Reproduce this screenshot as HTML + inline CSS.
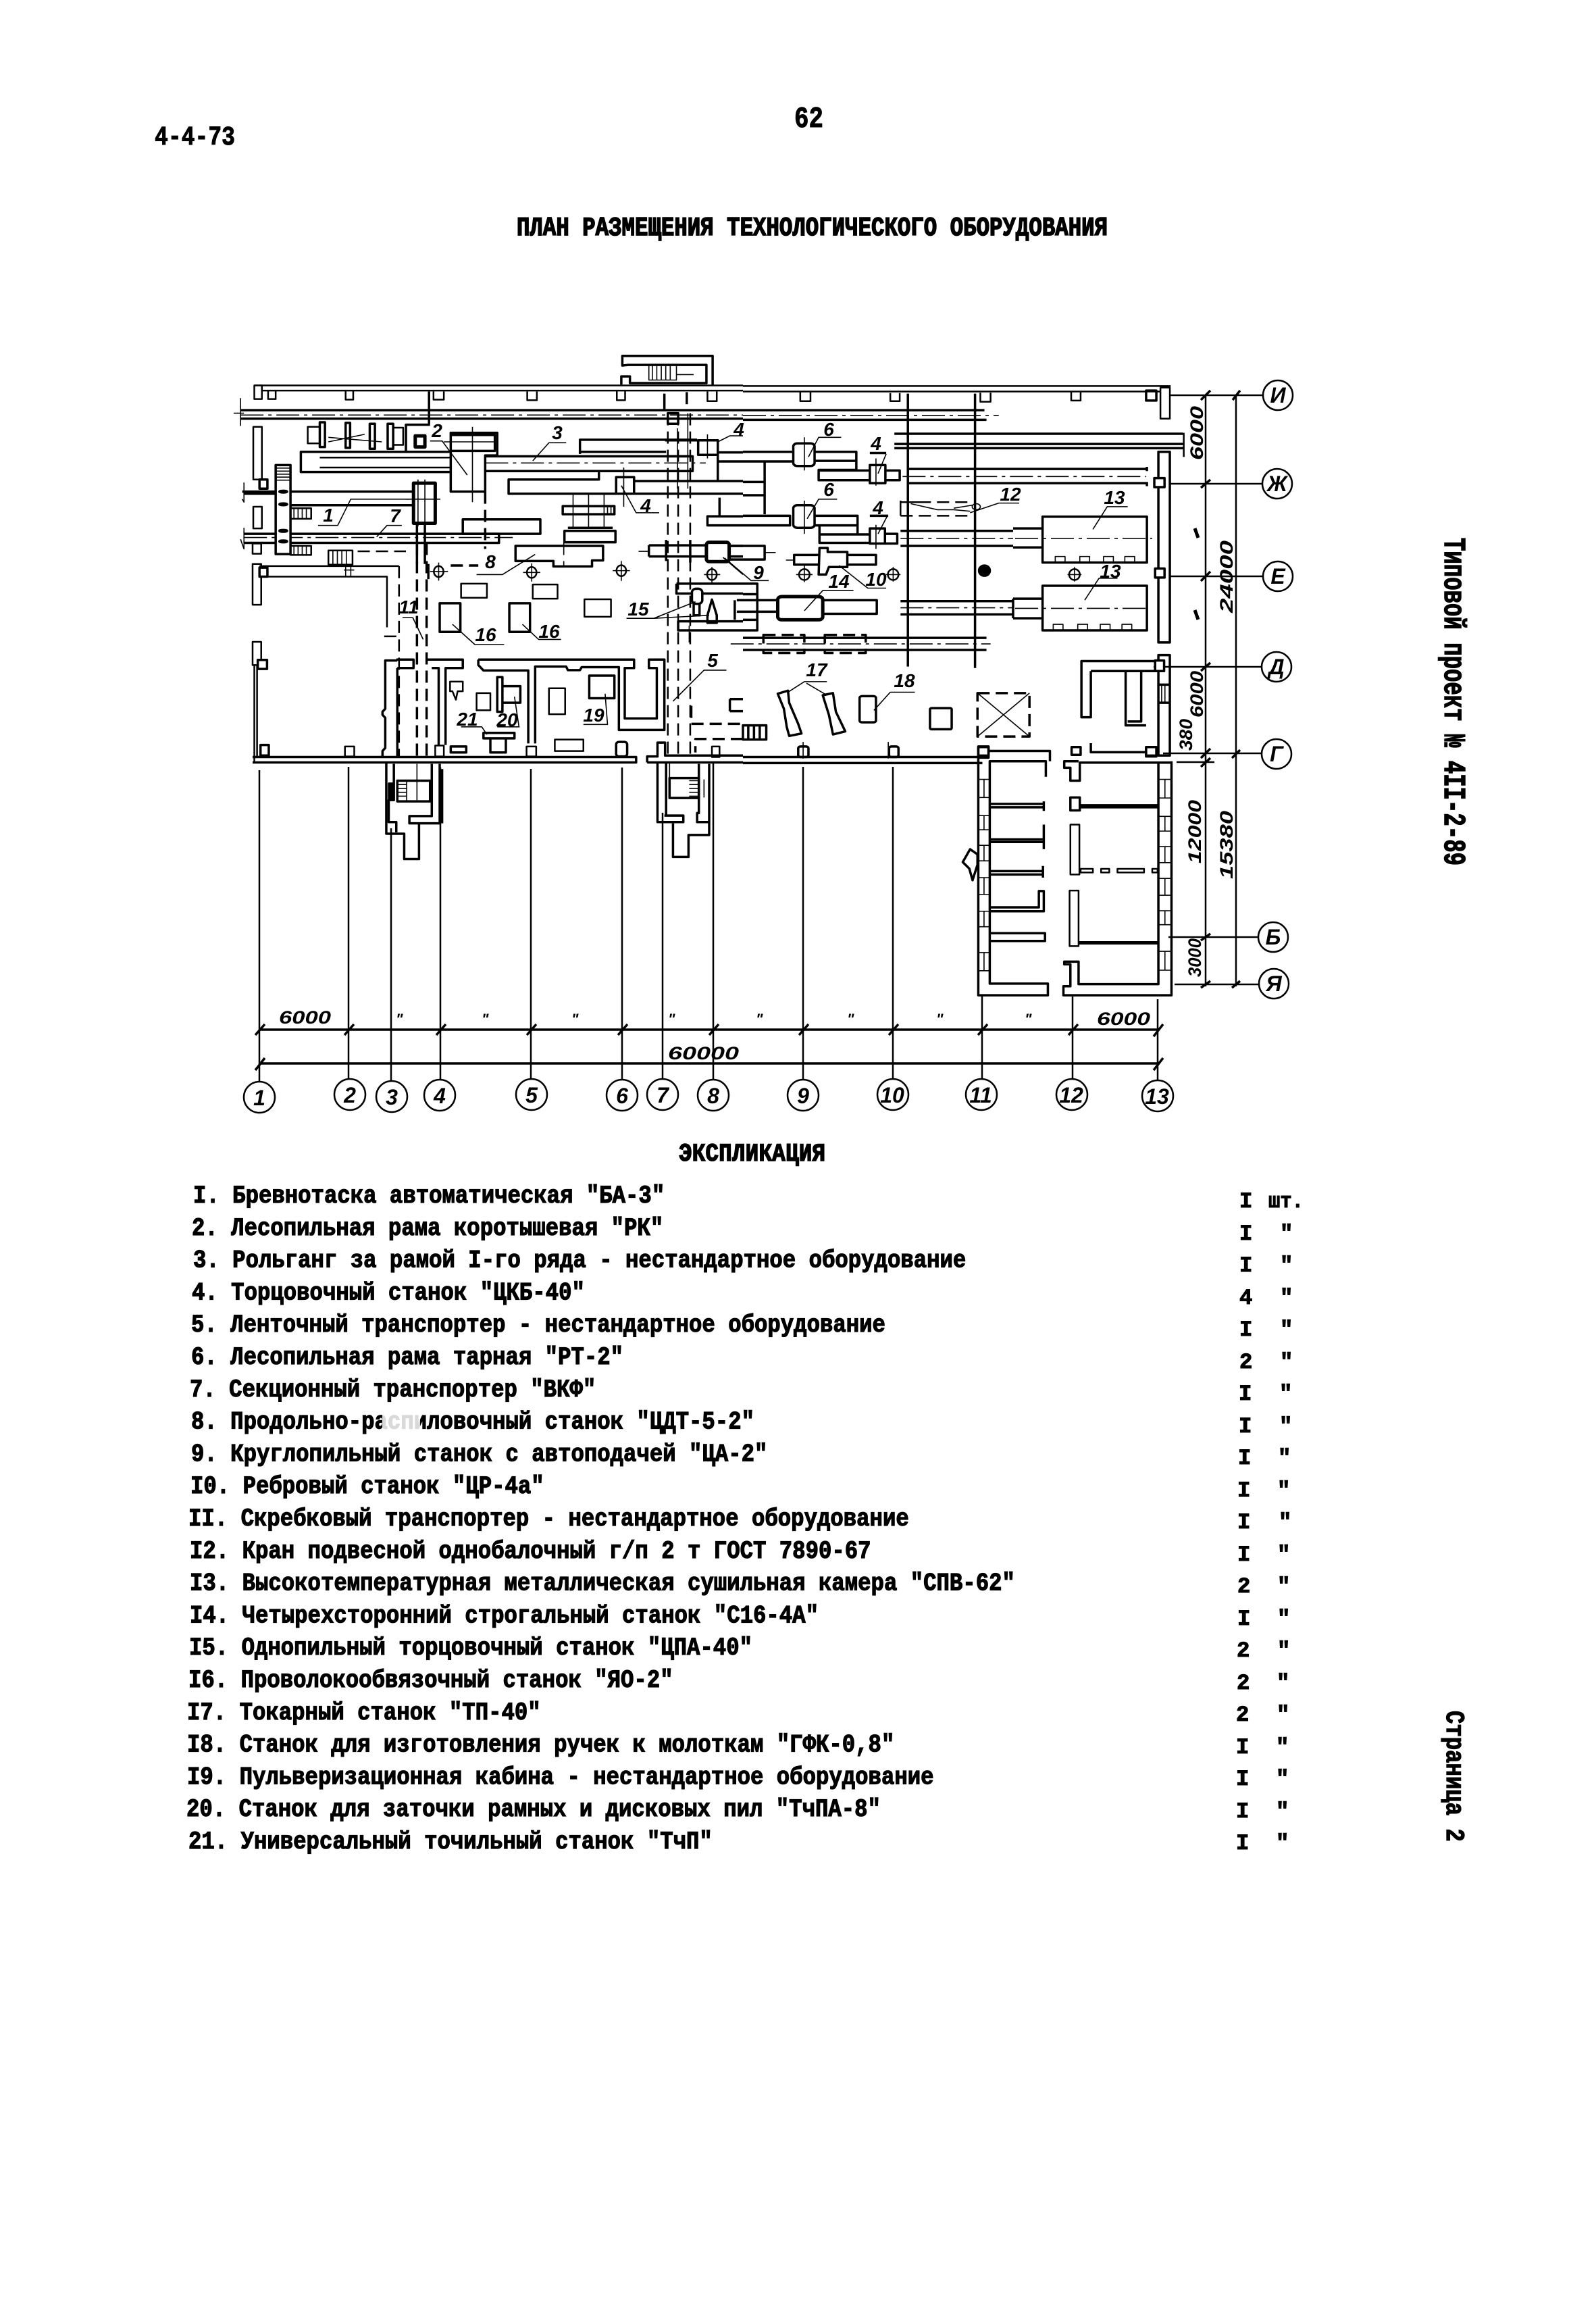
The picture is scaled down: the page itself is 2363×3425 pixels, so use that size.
<!DOCTYPE html>
<html lang="ru"><head><meta charset="utf-8"><title>План размещения технологического оборудования</title>
<style>
html,body{margin:0;padding:0;background:#fff}
svg{display:block;position:absolute;left:0;top:0}
path,rect,circle,ellipse,line{vector-effect:non-scaling-stroke}
.g{fill:none;stroke:#000;stroke-width:2.5;stroke-linejoin:round;stroke-linecap:butt}
.a{stroke-width:3.5}.b{stroke-width:1.6}.h{stroke-width:5}
.d{stroke-dasharray:18 9}.c{stroke-dasharray:34 7 5 7;stroke-width:1.6}
.w{fill:#fff}.f{fill:#000}
.t{font-family:"Liberation Mono","DejaVu Sans Mono",monospace;font-weight:700;font-size:32.33px;fill:#000;stroke:#000;stroke-width:1.1}
.l{font-family:"Liberation Sans",sans-serif;font-style:italic;font-weight:700;font-size:28px;fill:#000;text-anchor:middle}
.r{font-family:"Liberation Sans",sans-serif;font-style:italic;font-size:27px;font-weight:700;fill:#000}
.o{fill:#fff;stroke:#000;stroke-width:2.5}
</style></head><body>
<svg xmlns="http://www.w3.org/2000/svg" width="2363" height="3425" viewBox="0 0 2363 3425">
<rect width="2363" height="3425" fill="#fff"/>

<!-- axis + dimension lines (real coordinates) -->
<g class="g">
<path class="g" d="M384,1140V1600M516,1135V1598M579,1226V1600M652,1136V1598M786,1138V1598M921,1136V1598M981,1203V1598M1056,1130V1598M1189,1135V1598M1322,1135V1597M1454,1473V1597M1588,1475V1598M1714,1479V1600"/>
<path class="g a" d="M384,1524H1714M384,1574H1714"/>
<path class="g a" d="M378,1532L392,1516M510,1532L524,1516M646,1532L660,1516M780,1532L794,1516M915,1532L929,1516M1050,1532L1064,1516M1183,1532L1197,1516M1316,1532L1330,1516M1448,1532L1462,1516M1582,1532L1596,1516M1708,1534L1722,1516M378,1584L392,1566M1708,1584L1722,1566"/>
<path class="g" d="M1785,585V1460M1830,585V1460"/>
<path class="g" d="M1722,585H1870M1726,716H1869M1722,853H1870M1708,987H1868M1722,1115H1868M1730,1387H1862M1739,1457H1864M1742,1128H1798"/>
<path class="g a" d="M1778,592L1792,578M1825,592L1836,578M1778,722L1792,710M1778,860L1792,846M1778,993L1792,981M1778,1122L1792,1108M1824,1122L1836,1110M1778,1392L1792,1382M1778,1462L1792,1452M1824,1462L1836,1452M1778,1135L1792,1122"/>
</g>

<!-- plan left part (zoom1 coordinates) -->
<g transform="translate(300,500) scale(.5102,.4464)" class="g">
<path d="M150,158H1568M150,175H1568"/>
<rect x="150" y="158" width="22" height="45" class="w"/>
<path d="M190,175V203H212V175M415,175V205H437V175M670,178V205H700V178M942,178V207H970V178M1202,175V207H1226V175M1465,178V210H1492V178"/>
<path class="a" d="M657,178V285M1405,180V220M1340,185V240"/>
<path class="a" d="M1215,155V128H1240V150H1462V90H1235L1218,92V60H1480V160"/>
<path class="b" d="M1295,90H1375V140H1295ZM1305,90V140M1318,90V140M1331,90V140M1344,90V140M1357,90V140M1375,122H1425"/>
<path class="a" d="M110,240H1568M110,268H1568"/>
<path class="c" d="M110,256H1568"/>
<path class="b" d="M110,200V292M90,250H120"/>
<path d="M305,295H355V350H305ZM553,298H582V355H553"/>
<path class="a w" d="M340,280H355V362H340ZM415,282H428V365H415ZM485,285H500V368H485ZM537,285H553V368H537Z"/>
<path class="b" d="M365,330L520,345M365,345L470,320"/>
<path class="a" d="M720,378H285V445H720"/>
<path d="M340,397H720M340,430H720"/>
<path class="a" d="M590,378V288H660"/>
<path class="a w" d="M720,510V315H855V390H820V510Z"/>
<path class="a" d="M720,375H848V322H720"/>
<path class="b" d="M783,295V545M700,345H848"/>
<rect x="617" y="325" width="28" height="37" class="h"/>
<path class="b" d="M660,342H695L768,455"/>
<path class="a" d="M820,393H1420M820,442H1420"/>
<path class="c" d="M820,415H1460"/>
<path class="b" d="M1055,348H1005L958,408"/>
<path class="a" d="M1095,385V338H1435M1095,378H1345M1150,445V470H888V517H1568M1250,475H1568"/>
<rect x="1200" y="462" width="52" height="55" class="a w"/>
<path class="b" d="M1222,430V560M1215,490L1258,580H1325"/>
<path class="a" d="M1045,558H1195V585H1045Z"/>
<path class="b" d="M1165,560V582M1175,560V582M1185,560V582M1075,520V630M1120,520V630M1165,520V630"/>
<rect x="1050" y="640" width="148" height="38" class="a"/>
<path class="a" d="M1060,630H1190"/>
<path class="a w" d="M908,690H1162V738H1130V758H1018V740H908Z"/>
<path class="b d" d="M1048,680V760"/>
<path class="b" d="M795,785H870L965,718"/>
<rect x="755" y="602" width="225" height="48" class="a"/>
<path class="d a" d="M820,510V700"/>
<path class="a" d="M120,650H860V680H120M115,510H610M250,555H610M120,517H210"/>
<path class="c" d="M120,662H900"/>
<path class="b" d="M120,480V545L115,535M120,630V700L110,668"/>
<path class="b" d="M335,622H392L430,535H600M578,622H535L505,660"/>
<rect x="612" y="482" width="63" height="133" class="h w"/>
<path class="b" d="M625,470V625M645,470V625M590,535H690"/>
<rect x="212" y="422" width="43" height="295" class="a w"/>
<path class="b" d="M212,432H255M212,442H255M212,452H255M212,462H255M212,472H255"/>
<ellipse cx="234" cy="510" rx="12" ry="4" class="f"/><ellipse cx="234" cy="552" rx="12" ry="4" class="f"/><ellipse cx="234" cy="640" rx="12" ry="4" class="f"/><ellipse cx="234" cy="675" rx="12" ry="4" class="f"/>
<path d="M255,565H315V600H255ZM255,690H315V720H255Z"/>
<path class="b" d="M265,565V600M277,565V600M289,565V600M301,565V600M265,690V720M277,690V720M289,690V720M301,690V720"/>
<path d="M147,560H172V632H147ZM145,682H170V716H145ZM147,295H172V470H147Z"/>
<rect x="165" y="470" width="23" height="30" class="a"/>
<path d="M145,750H170V885H145ZM165,757H570M190,792H535V960"/>
<rect x="165" y="762" width="23" height="30" class="a w"/>
<path d="M365,705H435V752H365Z"/>
<path class="b" d="M378,705V752M391,705V752M404,705V752M417,705V752M415,755V790M430,755V790M410,770H440"/>
<path class="d" d="M450,708H590M570,757V990H525"/>
<path d="M145,1008H170V1085H145Z"/>
<rect x="160" y="1068" width="27" height="30" class="a w"/>
<path d="M150,1085V1408M158,1085V1390"/>
<path class="a" d="M145,1390H1258V1408H145M1290,1408V1388H1320V1342H1342V1385H1568M1290,1408H1568"/>
<path class="a" d="M168,1350H192V1385H168Z"/>
<path d="M413,1355H440V1388H413ZM675,1352H700V1388H675ZM940,1355H968V1388H940Z"/>
<rect x="1200" y="1340" width="32" height="48" rx="8" class="a"/>
<path class="a" d="M565,1070H530V1230L522,1240V1250L530,1260V1360L522,1370V1390M565,1095V1390M562,1067H612V1095H565"/>
<path class="a" d="M650,1067H755V1095H705V1350M665,1095H685V1350"/>
<path d="M718,1140H755V1172H740L735,1200L725,1172H718ZM795,1178H835V1235H795Z"/>
<rect x="855" y="1125" width="15" height="115" class="a"/>
<path class="a" d="M870,1155H922V1210H870"/>
<path class="a" d="M815,1310H905V1328H815Z"/><path class="a" d="M835,1328V1375H880V1328"/>
<path class="b" d="M750,1290H810L825,1315M855,1290H920M905,1190L918,1290"/>
<path class="a" d="M720,1355H765V1375H720Z"/>
<path class="a" d="M800,1067H1252V1095H1225V1262H1318V1095H1295V1067H1340V1300H1208V1092H1100L1095,1102H1060L1055,1090H965V1345M800,1067V1085L815,1103H945V1345"/>
<rect x="1005" y="1162" width="47" height="86"/>
<rect x="1122" y="1120" width="73" height="75" class="a"/>
<path class="b" d="M1168,1180L1175,1282H1105"/>
<rect x="1022" y="1332" width="83" height="38"/>
<rect x="750" y="815" width="75" height="47"/><rect x="958" y="818" width="72" height="47"/><rect x="1108" y="867" width="77" height="58"/>
<rect x="688" y="880" width="60" height="95" class="a"/><rect x="890" y="880" width="60" height="95" class="a"/>
<path class="b" d="M725,950L790,1017H875M928,950L975,1000H1040"/>
<ellipse cx="685" cy="775" rx="14" ry="18"/><ellipse cx="955" cy="778" rx="14" ry="18"/><ellipse cx="1215" cy="772" rx="14" ry="18"/><ellipse cx="1478" cy="785" rx="14" ry="18"/>
<path class="b" d="M660,775H712M685,745V805M930,778H980M955,748V808M1190,772H1240M1215,740V806M1455,785H1502M1478,760V815"/>
<path class="d a" d="M720,755H800M622,680V1400M650,680V1400"/>
<path class="a" d="M655,750V800M622,615V750M645,615V750"/>
<path class="d" d="M570,1000V1390"/>
<path class="b" d="M580,928H610L640,1000"/>
<path class="d" d="M1350,250V1380M1380,250V1380M1415,250V1380"/>
<rect x="1350" y="250" width="30" height="35" class="a"/>
<path class="a" d="M1342,340H1435M1345,393H1422V442H1345"/>
<path class="b" d="M1378,300V500M1408,250V500"/>
<rect x="1438" y="340" width="57" height="48" class="a w"/>
<path class="b" d="M1495,345L1530,325H1568M1465,320V400"/>
<path class="a" d="M1495,380H1568M1495,410H1568M1495,388V475M1500,530V595M1568,592H1465V622H1568"/>
<path class="a" d="M1295,688H1460M1295,725H1460M1295,688V725"/>
<rect x="1462" y="678" width="66" height="64" rx="8" class="h w"/>
<path class="a" d="M1528,690H1568M1528,725H1568M1345,670V740M1415,670V745"/>
<path class="b" d="M1265,708H1295M1510,728L1568,785"/>
<path class="a" d="M1375,815H1568M1375,815V848H1568M1568,940H1380V970H1568"/>
<rect x="1420" y="832" width="30" height="50" rx="12" class="a w"/>
<path class="a" d="M1425,882V920H1442V882M1465,945V920L1478,868L1492,920V945Z"/>
<path class="b" d="M1230,930H1310L1430,875M1310,930L1470,920"/>
<path class="b" d="M1520,1102H1455L1365,1205M1412,955V1010"/>
<path class="a" d="M1530,1198H1568M1530,1238H1568M1530,1198V1238"/>
<path class="a d" d="M1418,1220V1280H1568M1568,1330H1430V1375"/>
<rect x="1478" y="1355" width="22" height="35"/>
</g>

<!-- plan right part (zoom2 coordinates) -->
<g transform="translate(1000,500) scale(.606,.4464)" class="g">
<path d="M165,160H1210M165,178H1210"/>
<rect x="1185" y="165" width="23" height="103" class="w"/>
<path d="M305,180V210H330V180M525,183V210H548V183M745,182V212H770V182M967,180V208H990V180"/>
<rect x="1150" y="175" width="25" height="33" class="a"/>
<path class="a" d="M165,240H755M165,272H760"/>
<path class="c" d="M165,258H790"/>
<path class="a" d="M535,318H1240M535,352H1240M535,366H1240"/>
<path d="M1242,315V395"/>
<path class="a" d="M568,185V1090M732,185V1095"/>
<rect x="288" y="350" width="52" height="75" rx="10" class="a w"/>
<path class="b" d="M315,330V440M325,395L350,330H405"/>
<path class="a" d="M165,378H288M165,410H288M340,378H442V438H350V472H475M340,408H442M350,440H475M218,412V585M165,478H218M165,522H218"/>
<rect x="475" y="422" width="38" height="60" class="a w"/>
<path class="a" d="M513,440H548V472H513M475,382H515"/>
<path class="b" d="M490,400V490M515,385L495,450"/>
<path class="a" d="M165,590H280V622H165"/>
<rect x="288" y="555" width="52" height="75" rx="10" class="a w"/>
<path class="b" d="M315,540V650M395,535H350L322,600"/>
<path class="a" d="M340,590H445V650M340,622H445M352,622V680H475M352,652H475M475,590H520"/>
<rect x="475" y="632" width="37" height="50" class="a w"/>
<path class="a" d="M512,650H542V682H512"/>
<path class="b" d="M490,620V700M518,590L495,650"/>
<path class="a" d="M570,435H1152M570,482H1152M1152,428V442M1152,478V492"/>
<path class="c" d="M555,460H1150"/>
<path class="d" d="M550,545H720M550,590H720"/>
<path d="M550,540V590M560,545H610"/>
<path class="b" d="M575,550L640,570H680L720,575M680,565L725,555M840,548H790L720,580"/>
<circle cx="735" cy="560" r="10" class="b"/>
<rect x="897" y="593" width="255" height="152" class="a w"/>
<path class="c" d="M830,665H1165"/>
<path class="b" d="M1105,560H1055L1020,635"/>
<path class="a" d="M550,640H825M550,690H825"/>
<path class="c" d="M550,665H825"/>
<path class="a" d="M825,632H895M825,695H895"/>
<path class="b" d="M928,745V725H952V745M988,745V725H1012V745M1046,745V725H1070V745M1098,745V725H1122V745"/>
<rect x="897" y="822" width="255" height="148" class="a w"/>
<path class="c" d="M830,897H1160"/>
<path class="b" d="M1080,797H1035L1000,870"/>
<path class="a" d="M550,873H825M550,917H825M825,865H895M825,930H895M825,865V930"/>
<path class="c" d="M550,895H825"/>
<path class="b" d="M923,970V950H947V970M983,970V950H1007V970M1038,970V950H1062V970M1091,970V950H1115V970"/>
<rect x="250" y="858" width="110" height="77" rx="10" class="h w"/>
<path class="b" d="M435,838H360L315,905"/>
<path class="a" d="M150,870H250M150,908H250M360,870H492V915H360M165,815H200V970H165M165,850H200M165,935H200M145,870V935"/>
<path class="a w" d="M290,720H490V752H290Z"/>
<path class="a w" d="M352,697H372V710H420V760H375L368,785H350Z"/>
<path class="b" d="M270,737H290M515,830H470L400,755"/>
<path class="a" d="M130,690H218V735H130"/>
<path class="b" d="M218,712H245M228,805H185L120,730"/>
<ellipse cx="315" cy="785" rx="13" ry="18"/><ellipse cx="532" cy="785" rx="13" ry="18"/><ellipse cx="755" cy="772" rx="14" ry="18" class="f"/><ellipse cx="975" cy="785" rx="13" ry="18"/>
<path class="b" d="M295,785H335M315,755V810M515,785H550M532,760V808M958,785H992M975,760V808"/>
<path class="a" d="M165,995H760M165,1035H760"/>
<path class="c" d="M135,1015H770"/>
<path class="a d" d="M215,985H315V1045H215ZM365,985H465V1045H365Z"/>
<path class="b" d="M370,1140H315L275,1175M320,1145L370,1185"/>
<path class="a" d="M250,1180L275,1170L278,1210L300,1280L308,1312L278,1320L272,1290L265,1230ZM360,1185L385,1178L392,1240L415,1305L385,1315L375,1250Z"/>
<path class="b" d="M585,1175H525L485,1235"/>
<rect x="450" y="1188" width="40" height="87" rx="6" class="a"/>
<rect x="622" y="1228" width="53" height="70" rx="4" class="a"/>
<rect x="738" y="1178" width="127" height="144" class="a d"/>
<path class="b" d="M738,1178L865,1322M865,1178L738,1322"/>
<rect x="165" y="1285" width="57" height="47" class="a"/>
<path class="a" d="M178,1285V1332M192,1285V1332M206,1285V1332"/>
<path class="b" d="M520,1340V1395M312,1340V1395"/>
<rect x="300" y="1355" width="25" height="35" rx="6" class="a"/><rect x="522" y="1355" width="23" height="35" rx="6" class="a"/>
<rect x="740" y="1355" width="25" height="37" class="a"/>
<path class="a" d="M165,1390H750M165,1410H750"/>
<rect x="1180" y="378" width="28" height="632" class="a w"/>
<path class="a w" d="M1170,465H1195V495H1170ZM1172,765H1195V795H1172Z"/>
<path class="a" d="M1180,1052H1208V1385H1180ZM1015,1105V1258H992V1072H1180M1015,1105H1178"/>
<rect x="1172" y="1070" width="22" height="35" class="a w"/>
<path class="a" d="M1100,1105V1285H1150M1138,1105V1272H1105M1182,1150H1206M1182,1210H1206"/>
<path class="b" d="M1188,1150V1210M1196,1150V1210"/>
<rect x="1150" y="1358" width="25" height="30" class="a"/>
</g>

<!-- lower stairs (zoom3 coordinates) -->
<g transform="translate(300,1100) scale(.5102,.3827)" class="g">
<path class="a" d="M533,72V350H585V448H628V310H600V282H665V80M555,80V220H540V305H562V345"/>
<rect x="565" y="145" width="95" height="80" class="a"/>
<path class="b" d="M565,160H592M565,175H592M565,190H592M565,205H592M592,145V225M622,80V220"/>
<rect x="540" y="155" width="15" height="65" class="f"/>
<path class="a" d="M688,80V310H630M695,100V310"/>
<path class="a" d="M1320,78V305H1395V280H1340M1345,78V280M1440,80V270H1435V305H1470V355H1410V440H1365V310M1470,80V355"/>
<rect x="1355" y="135" width="85" height="77" class="a"/>
<path class="b" d="M1412,145H1440M1412,160H1440M1412,175H1440M1412,190H1440M1412,205H1440M1355,78V135M1455,140V210"/>
</g>

<!-- right rooms (zoom4 coordinates) -->
<g transform="translate(1000,1100) scale(.606,.3827)" class="g">
<path class="a" d="M740,15V975H910V930H768V70H905V130M765,30H915V70M740,15H765V48H740"/>
<path class="a" d="M1212,70V975H948V940H965V855H950V845H985V932H1180V75H988V145H965V95H950V70H985M1015,0V35H1150M1180,75H1212"/>
<rect x="968" y="15" width="22" height="30" class="a w"/>
<rect x="1150" y="15" width="25" height="33" class="a w"/>
<path class="b" d="M754,140V210M754,280V335M754,395V455M754,520V585M754,650V710M754,810V880"/>
<path class="b" d="M740,140H768M740,210H768M740,280H768M740,335H768M740,395H768M740,455H768M740,520H768M740,585H768M740,650H768M740,710H768M740,810H768M740,880H768"/>
<path class="b" d="M1196,140V212M1196,283V340M1196,400V462M1196,523V588M1196,648V702M1196,805V878"/>
<path class="b" d="M1180,140H1212M1180,212H1212M1180,283H1212M1180,340H1212M1180,400H1212M1180,462H1212M1180,523H1212M1180,588H1212M1180,648H1212M1180,702H1212M1180,805H1212M1180,878H1212"/>
<path class="a" d="M768,235H900M768,248H900M900,225V262M768,372H900M768,382H900M900,315V410M768,495H900M768,508H900M898,475V520M768,635H888V572H900V650H768M768,735H903V765H768"/>
<rect x="965" y="210" width="23" height="50" class="a"/>
<path class="a" d="M988,240H1178M988,248H1178"/>
<rect x="965" y="315" width="22" height="193"/>
<path d="M990,486H1020V500H990ZM1040,486H1060V500H1040ZM1080,486H1145V500H1080ZM1165,486H1178V500H1165Z"/>
<rect x="963" y="570" width="22" height="215"/>
<path class="h" d="M985,772H1178"/>
<path class="a" d="M720,410L738,430V470L726,530L718,485L702,460Z"/>
</g>

<!-- leader labels -->
<text class="l" x="647" y="647">2</text><text class="l" x="825" y="650">3</text><text class="l" x="486" y="772">1</text><text class="l" x="585" y="773">7</text><text class="l" x="956" y="758">4</text><text class="l" x="726" y="841">8</text><text class="l" x="605" y="908">11</text><text class="l" x="719" y="949">16</text><text class="l" x="813" y="944">16</text><text class="l" x="945" y="911">15</text><text class="l" x="1055" y="987">5</text><text class="l" x="879" y="1068">19</text><text class="l" x="751" y="1075">20</text><text class="l" x="692" y="1074">21</text><text class="l" x="1094" y="645">4</text><text class="l" x="1227" y="645">6</text><text class="l" x="1297" y="666">4</text><text class="l" x="1227" y="734">6</text><text class="l" x="1300" y="761">4</text><text class="l" x="1496" y="741">12</text><text class="l" x="1650" y="746">13</text><text class="l" x="1644" y="855">13</text><text class="l" x="1123" y="857">9</text><text class="l" x="1297" y="867">10</text><text class="l" x="1242" y="870">14</text><text class="l" x="1209" y="1001">17</text><text class="l" x="1339" y="1017">18</text>

<!-- axis circles -->
<circle class="o" cx="384" cy="1624" r="23"/><circle class="o" cx="518" cy="1620" r="23"/><circle class="o" cx="580" cy="1623" r="23"/><circle class="o" cx="651" cy="1621" r="23"/><circle class="o" cx="787" cy="1620" r="23"/><circle class="o" cx="921" cy="1621" r="23"/><circle class="o" cx="981" cy="1620" r="23"/><circle class="o" cx="1056" cy="1621" r="23"/><circle class="o" cx="1189" cy="1621" r="23"/><circle class="o" cx="1322" cy="1620" r="23"/><circle class="o" cx="1453" cy="1620" r="23"/><circle class="o" cx="1587" cy="1620" r="23"/><circle class="o" cx="1714" cy="1622" r="23"/>
<circle class="o" cx="1892" cy="585" r="22"/><circle class="o" cx="1891" cy="716" r="22"/><circle class="o" cx="1892" cy="853" r="22"/><circle class="o" cx="1890" cy="987" r="22"/><circle class="o" cx="1890" cy="1116" r="22"/><circle class="o" cx="1885" cy="1387" r="22"/><circle class="o" cx="1886" cy="1456" r="22"/>
<g class="l" style="font-size:32px">
<text x="384" y="1636">1</text><text x="518" y="1632">2</text><text x="580" y="1635">3</text><text x="651" y="1633">4</text><text x="787" y="1632">5</text><text x="921" y="1633">6</text><text x="981" y="1632">7</text><text x="1056" y="1633">8</text><text x="1189" y="1633">9</text><text x="1321" y="1632">10</text><text x="1452" y="1632">11</text><text x="1586" y="1632">12</text><text x="1713" y="1634">13</text>
<text x="1892" y="596">И</text><text x="1891" y="727">Ж</text><text x="1892" y="864">Е</text><text x="1890" y="998">Д</text><text x="1890" y="1127">Г</text><text x="1885" y="1398">Б</text><text x="1886" y="1467">Я</text>
</g>

<!-- dimensions -->
<text class="r" x="413" y="1515" textLength="77" lengthAdjust="spacingAndGlyphs">6000</text>
<text class="r" x="989" y="1568" textLength="105" lengthAdjust="spacingAndGlyphs">60000</text>
<text class="r" x="1624" y="1517" textLength="79" lengthAdjust="spacingAndGlyphs">6000</text>
<g class="r" style="font-size:22px"><text x="586" y="1516">"</text><text x="713" y="1516">"</text><text x="846" y="1516">"</text><text x="989" y="1516">"</text><text x="1119" y="1516">"</text><text x="1254" y="1516">"</text><text x="1386" y="1516">"</text><text x="1517" y="1516">"</text></g>
<text class="r" transform="translate(1781,681) rotate(-90)" textLength="80" lengthAdjust="spacingAndGlyphs">6000</text>
<text class="r" transform="translate(1825,907) rotate(-90)" textLength="107" lengthAdjust="spacingAndGlyphs">24000</text>
<text class="r" transform="translate(1781,1062) rotate(-90)" textLength="69" lengthAdjust="spacingAndGlyphs">6000</text>
<text class="r" transform="translate(1765,1111) rotate(-90)" textLength="47" lengthAdjust="spacingAndGlyphs">380</text>
<text class="r" transform="translate(1778,1278) rotate(-90)" textLength="94" lengthAdjust="spacingAndGlyphs">12000</text>
<text class="r" transform="translate(1825,1301) rotate(-90)" textLength="101" lengthAdjust="spacingAndGlyphs">15380</text>
<text class="r" transform="translate(1778,1446) rotate(-90)" textLength="57" lengthAdjust="spacingAndGlyphs">3000</text>
<path d="M1769,782L1774,796M1769,903L1774,917" stroke="#000" stroke-width="5"/>

<!-- header text -->
<text class="t" x="229" y="214" textLength="119" lengthAdjust="spacingAndGlyphs" style="font-size:40px">4-4-73</text>
<text class="t" x="1176" y="188" textLength="43" lengthAdjust="spacingAndGlyphs" style="font-size:44px">62</text>
<text class="t" transform="translate(765,348) scale(1,1.2)" textLength="875" style="stroke-width:1.4">ПЛАН РАЗМЕЩЕНИЯ ТЕХНОЛОГИЧЕСКОГО ОБОРУДОВАНИЯ</text>
<text class="t" transform="translate(1005,1718) scale(1,1.15)" textLength="217" style="stroke-width:1.4">ЭКСПЛИКАЦИЯ</text>

<!-- list -->
<g class="t">
<text transform="translate(286,1780) scale(1,1.14)">I. Бревнотаска автоматическая "БА-3"</text>
<text transform="translate(284,1827.8) scale(1,1.14)">2. Лесопильная рама коротышевая "РК"</text>
<text transform="translate(286,1875.6) scale(1,1.14)">3. Рольганг за рамой I-го ряда - нестандартное оборудование</text>
<text transform="translate(284,1923.4) scale(1,1.14)">4. Торцовочный станок "ЦКБ-40"</text>
<text transform="translate(283,1971.2) scale(1,1.14)">5. Ленточный транспортер - нестандартное оборудование</text>
<text transform="translate(283,2019) scale(1,1.14)">6. Лесопильная рама тарная "РТ-2"</text>
<text transform="translate(281,2066.8) scale(1,1.14)">7. Секционный транспортер "ВКФ"</text>
<text transform="translate(283,2114.6) scale(1,1.14)">8. Продольно-распиловочный станок "ЦДТ-5-2"</text>
<text transform="translate(283,2162.4) scale(1,1.14)">9. Круглопильный станок с автоподачей "ЦА-2"</text>
<text transform="translate(282,2210.2) scale(1,1.14)">I0. Ребровый станок "ЦР-4а"</text>
<text transform="translate(279,2258) scale(1,1.14)">II. Скребковый транспортер - нестандартное оборудование</text>
<text transform="translate(281,2305.8) scale(1,1.14)">I2. Кран подвесной однобалочный г/п 2 т ГОСТ 7890-67</text>
<text transform="translate(281,2353.6) scale(1,1.14)">I3. Высокотемпературная металлическая сушильная камера "СПВ-62"</text>
<text transform="translate(281,2401.4) scale(1,1.14)">I4. Четырехсторонний строгальный станок "С16-4А"</text>
<text transform="translate(280,2449.2) scale(1,1.14)">I5. Однопильный торцовочный станок "ЦПА-40"</text>
<text transform="translate(279,2497) scale(1,1.14)">I6. Проволокообвязочный станок "ЯО-2"</text>
<text transform="translate(277,2544.8) scale(1,1.14)">I7. Токарный станок "ТП-40"</text>
<text transform="translate(277,2592.6) scale(1,1.14)">I8. Станок для изготовления ручек к молоткам "ГФК-0,8"</text>
<text transform="translate(277,2640.4) scale(1,1.14)">I9. Пульверизационная кабина - нестандартное оборудование</text>
<text transform="translate(276,2688.2) scale(1,1.14)">20. Станок для заточки рамных и дисковых пил "ТчПА-8"</text>
<text transform="translate(279,2736) scale(1,1.14)">21. Универсальный точильный станок "ТчП"</text>
</g>
<rect x="566" y="2088" width="56" height="28" fill="#fff" opacity=".85"/>

<!-- quantities -->
<g class="t">
<text x="1835" y="1787">I</text><text x="1835" y="1835">I</text><text x="1835" y="1882">I</text><text x="1835" y="1930">4</text><text x="1835" y="1977">I</text><text x="1835" y="2025">2</text><text x="1834" y="2072">I</text><text x="1834" y="2120">I</text><text x="1833" y="2167">I</text><text x="1832" y="2215">I</text><text x="1832" y="2262">I</text><text x="1832" y="2310">I</text><text x="1832" y="2357">2</text><text x="1832" y="2405">I</text><text x="1831" y="2452">2</text><text x="1831" y="2500">2</text><text x="1830" y="2547">2</text><text x="1830" y="2595">I</text><text x="1830" y="2642">I</text><text x="1830" y="2690">I</text><text x="1830" y="2737">I</text>
<text x="1878" y="1787" textLength="52" lengthAdjust="spacingAndGlyphs">шт.</text>
<text x="1895" y="1835">"</text><text x="1895" y="1882">"</text><text x="1895" y="1930">"</text><text x="1895" y="1977">"</text><text x="1895" y="2025">"</text><text x="1894" y="2072">"</text><text x="1894" y="2120">"</text><text x="1892" y="2167">"</text><text x="1891" y="2215">"</text><text x="1893" y="2262">"</text><text x="1891" y="2310">"</text><text x="1891" y="2357">"</text><text x="1891" y="2405">"</text><text x="1891" y="2452">"</text><text x="1890" y="2500">"</text><text x="1890" y="2547">"</text><text x="1889" y="2595">"</text><text x="1889" y="2642">"</text><text x="1889" y="2690">"</text><text x="1889" y="2737">"</text>
</g>

<!-- right margin vertical text -->
<text class="t" transform="translate(2139,796) rotate(90) scale(1,1.4)">Типовой проект № 4II-2-89</text>
<text class="t" transform="translate(2142,2532) rotate(90) scale(1,1.2)">Страница 2</text>
</svg>
</body></html>
